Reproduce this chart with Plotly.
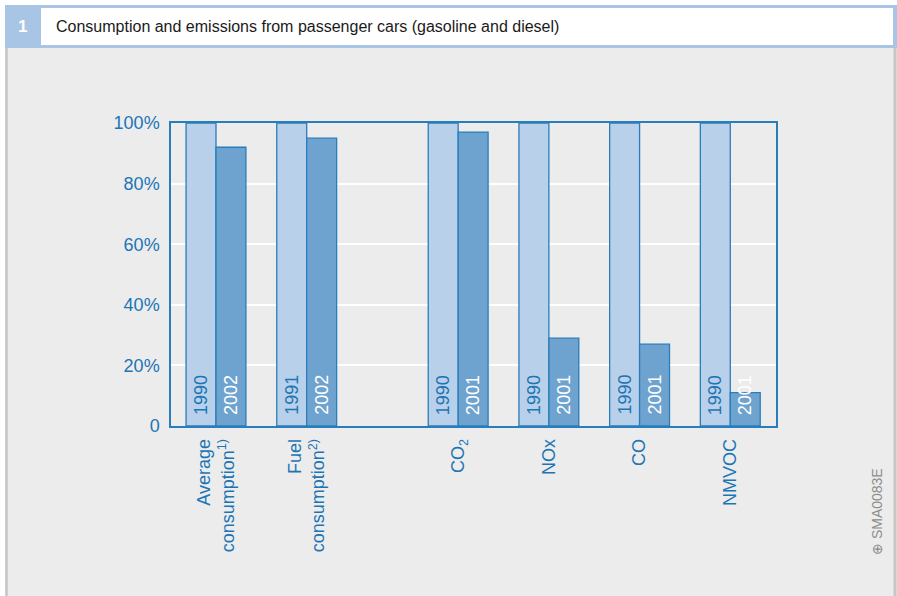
import plotly.graph_objects as go

# ---- data ----
categories = ["Average<br>consumption<sup>1)</sup>", "Fuel<br>consumption<sup>2)</sup>",
              "CO<sub>2</sub>", "NOx", "CO", "NMVOC"]
base_years = ["1990", "1991", "1990", "1990", "1990", "1990"]
later_years = ["2002", "2002", "2001", "2001", "2001", "2001"]
base_values = [100, 100, 100, 100, 100, 100]
later_values = [92, 95, 97, 29, 27, 11]
y_tickvals = [0, 20, 40, 60, 80, 100]
y_ticktext = ["0", "20%", "40%", "60%", "80%", "100%"]

# layout positions of the groups along x (gap between consumption and emissions)
group_pos = [0, 1, 2.67, 3.67, 4.67, 5.67]
bar_offset = 0.165

W, H = 897, 596
ML, MR, MT, MB = 171, 121, 123, 170
PW, PH = W - ML - MR, H - MT - MB

def px(x):
    return (x - ML) / PW

def py(y):
    return (H - MB - y) / PH

BLUE_TXT = "#1c75b5"
EDGE = "#2a7dbb"
LIGHT = "#b9d0ea"
DARK = "#6fa3cf"
FONT = "Liberation Sans, Arial"

fig = go.Figure()
fig.add_trace(go.Bar(x=group_pos, y=base_values, marker=dict(color=LIGHT, line=dict(color=EDGE, width=1.3)),
                     hoverinfo="skip", showlegend=False))
fig.add_trace(go.Bar(x=group_pos, y=later_values, marker=dict(color=DARK, line=dict(color=EDGE, width=1.3)),
                     hoverinfo="skip", showlegend=False))

annotations = []
for gp, yr1, yr2 in zip(group_pos, base_years, later_years):
    annotations.append(dict(x=gp - bar_offset, y=0, xref="x", yref="y", text=yr1, showarrow=False,
                            textangle=-90, yanchor="bottom", xanchor="center", yshift=9,
                            font=dict(family=FONT, size=18, color=BLUE_TXT)))
    annotations.append(dict(x=gp + bar_offset, y=0, xref="x", yref="y", text=yr2, showarrow=False,
                            textangle=-90, yanchor="bottom", xanchor="center", yshift=9,
                            font=dict(family=FONT, size=18, color="white")))

# header
annotations.append(dict(x=px(22.5), y=py(27), xref="paper", yref="paper", text="<b>1</b>", showarrow=False,
                        xanchor="center", yanchor="middle",
                        font=dict(family=FONT, size=17, color="white")))
annotations.append(dict(x=px(54), y=py(27), xref="paper", yref="paper",
                        text="Consumption and emissions from passenger cars (gasoline and diesel)",
                        showarrow=False, xanchor="left", yanchor="middle",
                        font=dict(family=FONT, size=16, color="#1a1a1a")))
annotations.append(dict(x=px(877), y=py(512), xref="paper", yref="paper", text="⊕ SMA0083E",
                        showarrow=False, textangle=-90, xanchor="center", yanchor="middle",
                        font=dict(family=FONT, size=14, color="#8c8c8c")))

shapes = [
    # gray panel
    dict(type="rect", xref="paper", yref="paper", x0=px(5), x1=px(897), y0=py(596), y1=py(48),
         fillcolor="#ececec", line=dict(width=0), layer="below"),
    dict(type="line", xref="paper", yref="paper", x0=px(6.5), x1=px(6.5), y0=py(596), y1=py(48),
         line=dict(color="#c6c6c6", width=2.5), layer="below"),
    dict(type="line", xref="paper", yref="paper", x0=px(895), x1=px(895), y0=py(596), y1=py(48),
         line=dict(color="#c6c6c6", width=3), layer="below"),
    # header band
    dict(type="rect", xref="paper", yref="paper", x0=px(5), x1=px(897), y0=py(48), y1=py(5),
         fillcolor="#a8c5e6", line=dict(width=0), layer="below"),
    dict(type="rect", xref="paper", yref="paper", x0=px(41), x1=px(893), y0=py(45), y1=py(8),
         fillcolor="white", line=dict(width=0), layer="below"),
]

fig.update_layout(
    width=W, height=H,
    margin=dict(l=ML, r=MR, t=MT, b=MB, pad=0),
    paper_bgcolor="white",
    plot_bgcolor="#c4c4c4",
    barmode="group", bargap=0.34, bargroupgap=0,
    annotations=annotations, shapes=shapes,
    font=dict(family=FONT, color=BLUE_TXT),
)
fig.update_xaxes(range=[-0.496, 6.174], tickvals=group_pos, ticktext=categories, tickangle=-90,
                 tickfont=dict(size=18, color=BLUE_TXT), showgrid=False, zeroline=False,
                 showline=True, linecolor=EDGE, linewidth=1.5, mirror=True, ticks="", ticklabelstandoff=4)
fig.update_yaxes(range=[0, 100], tickvals=y_tickvals, ticktext=y_ticktext,
                 tickfont=dict(size=18, color=BLUE_TXT), showgrid=True, gridcolor="white", gridwidth=1.5,
                 zeroline=False, showline=True, linecolor=EDGE, linewidth=1.5, mirror=True, ticks="",
                 ticklabelstandoff=6)

fig.write_html("out.html", config={"displayModeBar": False},
               post_script="document.body.style.margin='0';document.body.style.overflow='hidden';")
